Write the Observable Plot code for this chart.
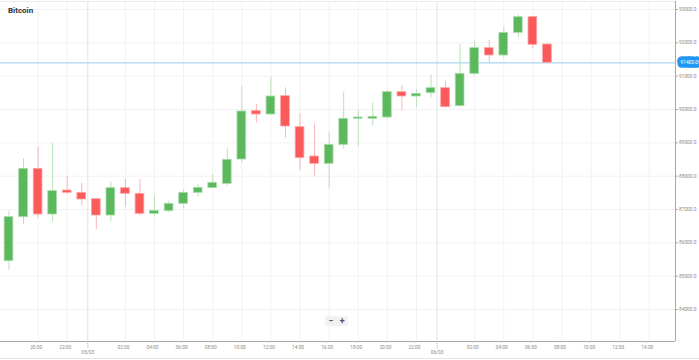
<!DOCTYPE html>
<html>
<head>
<meta charset="utf-8">
<script src="https://cdn.jsdelivr.net/npm/d3@7"></script>
<script src="https://cdn.jsdelivr.net/npm/@observablehq/plot@0.6"></script>
<style>
  html, body { margin: 0; padding: 0; background: #fff; }
  #wrap { position: relative; width: 699px; height: 360px; overflow: hidden; font-family: Roboto, "Noto Sans", sans-serif; }
  #title { position: absolute; left: 8px; top: 6px; font-size: 8px; font-weight: bold; color: #333; }
  #zoomctl { position: absolute; left: 325px; top: 316px; width: 23px; height: 10px; background: #f2f2f2; border-radius: 1px;
             font-size: 9px; font-weight: bold; color: #555; display: flex; justify-content: space-around; align-items: center; line-height: 10px; }
  #bottomline { position: absolute; left: 0; right: 0; top: 358px; height: 1px; background: #e6e6e6; }
</style>
</head>
<body>
<div id="wrap">
  <div id="chart"></div>
  <div id="title">Bitcoin</div>
  <div id="zoomctl"><span>−</span><span>+</span></div>
  <div id="bottomline"></div>
</div>
<script>
// ---- data (hourly candles) ----
const times = [
  "2025-03-04T18:00Z","2025-03-04T19:00Z","2025-03-04T20:00Z","2025-03-04T21:00Z","2025-03-04T22:00Z","2025-03-04T23:00Z",
  "2025-03-05T00:00Z","2025-03-05T01:00Z","2025-03-05T02:00Z","2025-03-05T03:00Z","2025-03-05T04:00Z","2025-03-05T05:00Z",
  "2025-03-05T06:00Z","2025-03-05T07:00Z","2025-03-05T08:00Z","2025-03-05T09:00Z","2025-03-05T10:00Z","2025-03-05T11:00Z",
  "2025-03-05T12:00Z","2025-03-05T13:00Z","2025-03-05T14:00Z","2025-03-05T15:00Z","2025-03-05T16:00Z","2025-03-05T17:00Z",
  "2025-03-05T18:00Z","2025-03-05T19:00Z","2025-03-05T20:00Z","2025-03-05T21:00Z","2025-03-05T22:00Z","2025-03-05T23:00Z",
  "2025-03-06T00:00Z","2025-03-06T01:00Z","2025-03-06T02:00Z","2025-03-06T03:00Z","2025-03-06T04:00Z","2025-03-06T05:00Z",
  "2025-03-06T06:00Z","2025-03-06T07:00Z"
];
const open  = [85450, 86770, 88220, 86850, 87570, 87500, 87310, 86820, 87640, 87470, 86870, 86950, 87170, 87500, 87640, 87770, 88500, 89950, 89850, 90400, 89470, 88590, 88370, 88940, 89720, 89720, 89760, 90520, 90390, 90490, 90640, 90100, 91070, 91840, 91620, 92300, 92770, 91950];
const close = [86770, 88220, 86850, 87550, 87500, 87300, 86820, 87640, 87470, 86870, 86960, 87170, 87500, 87650, 87800, 88490, 89940, 89850, 90390, 89490, 88540, 88370, 88940, 89720, 89760, 89780, 90520, 90390, 90470, 90640, 90070, 91070, 91840, 91620, 92300, 92770, 91940, 91400];
const high  = [86950, 88520, 88870, 88980, 87990, 87790, 87320, 87820, 87900, 87890, 87420, 87250, 87590, 87750, 88040, 88820, 90690, 90150, 90970, 90650, 89870, 89570, 89320, 90520, 89970, 90190, 90570, 90720, 90590, 91040, 90850, 91950, 92050, 92070, 92470, 92850, 92780, 91990];
const low   = [85170, 86550, 86740, 86620, 87450, 87120, 86390, 86640, 87070, 86800, 86770, 86900, 87020, 87370, 87630, 87690, 88390, 89590, 89820, 89150, 88170, 87970, 87620, 88820, 88890, 89500, 89700, 89950, 90050, 90340, 90050, 90090, 91020, 91420, 91550, 92150, 91820, 91400];
const currentPrice = 91400;

// axis ticks
const yTicks = [84000, 85000, 86000, 87000, 88000, 89000, 90000, 91000, 92000, 93000];
const hourTicks = [
  "2025-03-04T20:00Z","2025-03-04T22:00Z",
  "2025-03-05T02:00Z","2025-03-05T04:00Z","2025-03-05T06:00Z","2025-03-05T08:00Z","2025-03-05T10:00Z","2025-03-05T12:00Z",
  "2025-03-05T14:00Z","2025-03-05T16:00Z","2025-03-05T18:00Z","2025-03-05T20:00Z","2025-03-05T22:00Z",
  "2025-03-06T02:00Z","2025-03-06T04:00Z","2025-03-06T06:00Z","2025-03-06T08:00Z","2025-03-06T10:00Z","2025-03-06T12:00Z","2025-03-06T14:00Z"
].map(s => new Date(s));
const dayMarks = ["2025-03-04T23:25Z", "2025-03-05T23:25Z"].map(s => new Date(s));
const dayLabels = ["05/03", "06/03"];
const xDomain = [new Date("2025-03-04T17:25Z"), new Date("2025-03-06T15:48Z")];
const yDomain = [83040, 93240];

const candles = times.map((t, i) => ({
  time: new Date(t), open: open[i], close: close[i], high: high[i], low: low[i],
  up: close[i] >= open[i]
}));

const GREEN = "#5cb85c", GREEN_LIGHT = "#a9dba9", GREEN_WICK = "#b9e2b9";
const RED = "#fa5a5a", RED_LIGHT = "#ffa3a3", RED_WICK = "#f9b6b6";
const halfBody = 18 * 60 * 1000;

const chart = Plot.plot({
  width: 699,
  height: 360,
  marginLeft: 0,
  marginRight: 24,
  marginTop: 1,
  marginBottom: 19,
  style: { fontFamily: "Roboto, 'Noto Sans', sans-serif", background: "transparent" },
  x: { type: "utc", domain: xDomain, axis: null },
  y: { domain: yDomain, axis: null },
  marks: [
    // grid
    Plot.ruleY(yTicks, { stroke: "#f2f2f2", strokeWidth: 1 }),
    Plot.ruleX(hourTicks, { stroke: "#f2f2f2", strokeWidth: 1 }),
    Plot.ruleX(dayMarks, { stroke: "#e2e2e2", strokeWidth: 1 }),
    Plot.ruleY([yDomain[1]], { stroke: "#ebebeb" }),
    // price line
    Plot.ruleY([currentPrice], { stroke: "#abd6f5", strokeWidth: 1.2 }),
    // wicks
    Plot.ruleX(candles, { x: "time", y1: "low", y2: "high", stroke: d => d.up ? GREEN_WICK : RED_WICK, strokeWidth: 1 }),
    // bodies
    Plot.rect(candles, {
      x1: d => new Date(+d.time - halfBody), x2: d => new Date(+d.time + halfBody),
      y1: "open", y2: d => (Math.abs(d.close - d.open) < 30 ? d.open + (d.up ? 30 : -30) : d.close),
      fill: d => d.up ? GREEN : RED, stroke: d => d.up ? GREEN_LIGHT : RED_LIGHT, strokeWidth: 0.8
    }),
    // axes lines
    Plot.ruleX([xDomain[1]], { stroke: "#a8a8a8" }),
    Plot.ruleY([yDomain[0]], { stroke: "#a8a8a8" }),
    // y axis
    Plot.axisY(yTicks, {
      anchor: "right", tickSize: 2, tickPadding: 1.5, stroke: "#a8a8a8",
      tickFormat: d => d.toFixed(1), fontSize: 4.8, fill: "#8a8a8a", textAnchor: "start"
    }),
    // x axis hours
    Plot.axisX(hourTicks, {
      anchor: "bottom", tickSize: 2, tickPadding: 2, stroke: "#c8c8c8",
      tickFormat: d3.utcFormat("%H:%M"), fontSize: 4.8, fill: "#8a8a8a", dx: -2
    }),
    // x axis days
    Plot.axisX(dayMarks, {
      anchor: "bottom", tickSize: 7, tickPadding: 2, stroke: "#b0b0b0", strokeDasharray: "1,1",
      tickFormat: (d, i) => dayLabels[i], fontSize: 4.8, fill: "#8a8a8a"
    }),
    // current price label
    Plot.text([currentPrice], {
      y: d => d, frameAnchor: "right", text: d => d.toFixed(1), dx: 5, textAnchor: "start",
      fill: "white", stroke: "#2196f3", strokeWidth: 7.5, strokeLinejoin: "round", fontSize: 4.8
    })
  ]
});
document.getElementById("chart").appendChild(chart);
</script>
</body>
</html>
